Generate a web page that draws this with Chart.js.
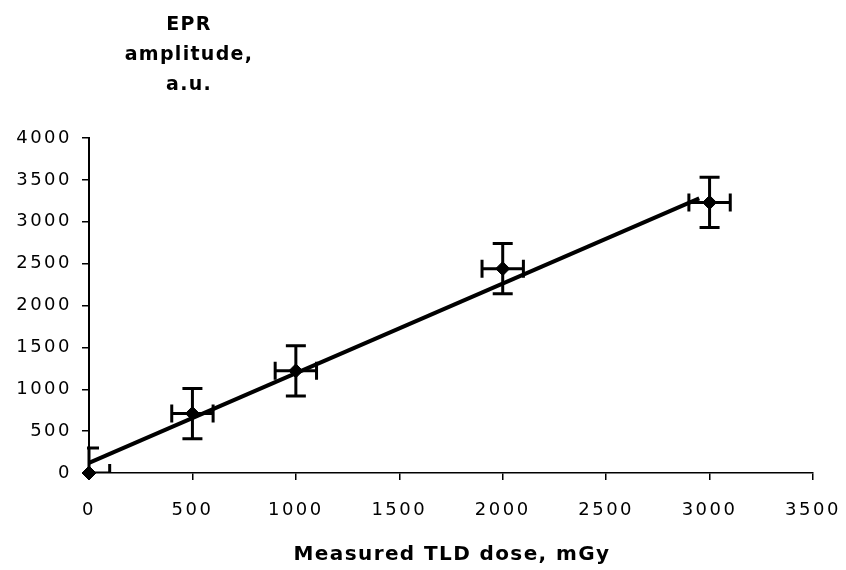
<!DOCTYPE html>
<html><head><meta charset="utf-8">
<script src="https://cdn.jsdelivr.net/npm/chart.js@4/dist/chart.umd.min.js"></script>
<style>html,body{margin:0;padding:0;background:#fff;}#wrap{position:relative;width:846px;height:570px;}</style>
</head><body><div id="wrap"><canvas id="c"></canvas></div>
<script>
// ---- data ----
const doses = [0, 500, 1000, 2000, 3000];               // mGy
const amplitudes = [0, 710, 1220, 2440, 3230];         // a.u.
const doseErrors = [100, 100, 100, 100, 100];          // ± mGy
const amplitudeErrors = [300, 300, 300, 300, 300];     // ± a.u.
const fitDoses = [0, 2950];
const fitAmplitudes = [120, 3280];
const xTickValues = [0, 500, 1000, 1500, 2000, 2500, 3000, 3500];
const yTickValues = [0, 500, 1000, 1500, 2000, 2500, 3000, 3500, 4000];
const xTitleText = 'Measured TLD dose, mGy';
const yTitleLines = ['EPR', 'amplitude,', 'a.u.'];

const FONT = '"DejaVu Sans", Arial, sans-serif';
const SPACING = '2.5px';

const points = doses.map((d, i) => ({x: d, y: amplitudes[i]}));
const fitLine = fitDoses.map((d, i) => ({x: d, y: fitAmplitudes[i]}));

const spacingPlugin = {
  id: 'spacing',
  beforeDraw(chart) { chart.ctx.letterSpacing = SPACING; }
};

const errorBars = {
  id: 'errorBars',
  beforeDatasetDraw(chart, args) {
    if (args.index !== 0) return;
    const {ctx, chartArea: a, scales: {x, y}} = chart;
    ctx.save();
    ctx.beginPath();
    ctx.rect(a.left - 2, a.top - 40, a.right - a.left + 42, a.bottom - a.top + 40);
    ctx.clip();
    ctx.strokeStyle = '#000';
    ctx.lineWidth = 3;
    ctx.lineCap = 'butt';
    doses.forEach((d, i) => {
      const px = x.getPixelForValue(d), py = y.getPixelForValue(amplitudes[i]);
      const y1 = y.getPixelForValue(amplitudes[i] + amplitudeErrors[i]);
      const y2 = y.getPixelForValue(amplitudes[i] - amplitudeErrors[i]);
      const x1 = x.getPixelForValue(d - doseErrors[i]);
      const x2 = x.getPixelForValue(d + doseErrors[i]);
      ctx.beginPath();
      ctx.moveTo(px, y1); ctx.lineTo(px, y2);
      ctx.moveTo(px - 10, y1); ctx.lineTo(px + 10, y1);
      ctx.moveTo(px - 10, y2); ctx.lineTo(px + 10, y2);
      ctx.moveTo(x1, py); ctx.lineTo(x2, py);
      ctx.moveTo(x1, py - 9); ctx.lineTo(x1, py + 9);
      ctx.moveTo(x2, py - 9); ctx.lineTo(x2, py + 9);
      ctx.stroke();
    });
    ctx.restore();
  }
};

const axisTitles = {
  id: 'axisTitles',
  afterDraw(chart) {
    const ctx = chart.ctx;
    const a = chart.chartArea;
    ctx.save();
    ctx.fillStyle = '#000';
    ctx.textAlign = 'center';
    ctx.textBaseline = 'alphabetic';
    // y-axis title, stacked above the axis
    ctx.letterSpacing = '1.3px';
    ctx.font = 'bold 19px ' + FONT;
    const baselines = [30, 60, 90];
    yTitleLines.forEach((t, i) => ctx.fillText(t, 189, baselines[i]));
    // x-axis title
    ctx.letterSpacing = '1.4px';
    ctx.font = 'bold 20px ' + FONT;
    ctx.fillText(xTitleText, (a.left + a.right) / 2 + 1, 560);
    ctx.restore();
  }
};

const plain = v => String(v);

new Chart(document.getElementById('c'), {
  type: 'scatter',
  data: {
    datasets: [
      {
        label: 'Measured',
        data: points,
        pointStyle: 'rectRot',
        pointRadius: 7,
        pointHoverRadius: 7,
        backgroundColor: '#000',
        borderColor: '#000',
        borderWidth: 1,
        clip: false
      },
      {
        label: 'Fit',
        data: fitLine,
        showLine: true,
        pointRadius: 0,
        borderColor: '#000',
        borderWidth: 4,
        clip: false
      }
    ]
  },
  options: {
    responsive: true,
    maintainAspectRatio: false,
    animation: false,
    events: [],
    layout: {padding: {top: 138, right: 33, left: 0, bottom: 0}},
    plugins: {legend: {display: false}, tooltip: {enabled: false}},
    scales: {
      x: {
        type: 'linear',
        min: xTickValues[0],
        max: xTickValues[xTickValues.length - 1],
        afterBuildTicks(s) { s.ticks = xTickValues.map(v => ({value: v})); },
        afterFit(s) { s.height = 97; s.paddingLeft = 0; s.paddingRight = 0; },
        grid: {drawOnChartArea: false, drawTicks: true, tickLength: 7, color: '#000', lineWidth: 1.5},
        border: {display: true, color: '#000', width: 1.5},
        ticks: {color: '#000', font: {family: FONT, size: 18}, padding: 20, maxRotation: 0, callback: plain},
        title: {display: false}
      },
      y: {
        type: 'linear',
        min: yTickValues[0],
        max: yTickValues[yTickValues.length - 1],
        afterBuildTicks(s) { s.ticks = yTickValues.map(v => ({value: v})); },
        afterFit(s) { s.width = 89; s.paddingTop = 0; s.paddingBottom = 0; },
        grid: {drawOnChartArea: false, drawTicks: true, tickLength: 7, color: '#000', lineWidth: 1.5},
        border: {display: true, color: '#000', width: 2},
        ticks: {color: '#000', font: {family: FONT, size: 18}, padding: 10, callback: plain}
      }
    }
  },
  plugins: [spacingPlugin, errorBars, axisTitles]
});
</script>
</body></html>
